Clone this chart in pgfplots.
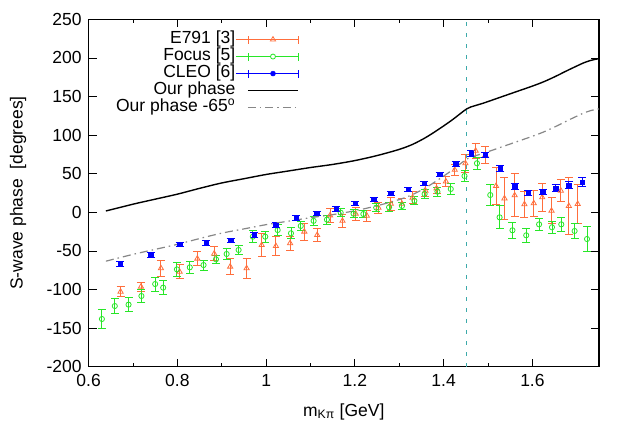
\documentclass[border=0pt]{standalone}
\usepackage{pgfplots}
\pgfplotsset{compat=1.18}
\usepackage{fontspec}
\setmainfont{Liberation Sans}

\definecolor{eorange}{RGB}{255,110,60}
\definecolor{fgreen}{RGB}{40,230,40}
\definecolor{cblue}{RGB}{0,0,255}
\definecolor{thrteal}{RGB}{60,170,170}
\definecolor{shiftgray}{RGB}{135,135,135}

\newcommand{\fs}{\fontsize{17.5bp}{20bp}\selectfont}

\begin{document}
\begin{tikzpicture}[font=\fs]
\begin{axis}[
    at={(0,0)}, anchor=south west,
    scale only axis,
    width=510.4bp, height=347.4bp,
    xmin=0.6, xmax=1.75,
    ymin=-200, ymax=250,
    xtick={0.6,0.8,1,1.2,1.4,1.6},
    minor x tick num=1,
    ytick={-200,-150,...,250},
    tick align=inside,
    major tick length=8bp, minor tick length=4bp,
    axis line style={line width=1.1bp},
    every tick/.style={black, line width=0.8bp},
    /pgf/number format/assume math mode=true,
    tick label style={font=\fs},
    xticklabel style={/pgf/number format/fixed, yshift=-4bp},
    yticklabel style={xshift=-3.5bp},
    xlabel={m\textsubscript{Kπ} [GeV]},
    ylabel={S-wave phase\ \ [degrees]},
    xlabel style={font=\fs, at={(axis description cs:0.5,-0.13)}, anchor=center},
    ylabel style={font=\fs, at={(axis description cs:-0.138,0.5)}, anchor=center},
    legend plot pos=right,
    legend cell align=right,
    legend style={font=\fs, draw=none, fill=none, inner sep=0bp,
        at={(axis description cs:0.412,0.966)}, anchor=north east,
        row sep=0.5bp,
        nodes={inner sep=0bp, text height=12.5bp, text depth=4bp}},
    error bars/y dir=both, error bars/y explicit,
    error bars/error bar style={line width=0.9bp, solid},
    error bars/error mark options={rotate=90, mark size=4bp, line width=0.9bp},
]

% E791 [3]
\addplot[only marks, eorange, mark=triangle, mark size=3bp, mark options={line width=0.8bp},
    legend image code/.code={
        \path (0bp,0bp) -- (62bp,0bp);
        \draw[eorange, line width=0.8bp] (12bp,0bp) -- (62bp,0bp);
        \draw[eorange, line width=0.8bp] (12bp,-4bp) -- (12bp,4bp);
        \draw[eorange, line width=0.8bp] (62bp,-4bp) -- (62bp,4bp);
        \draw[eorange, line width=0.8bp] plot[mark=triangle, mark size=3bp] coordinates {(37bp,0bp)};
    }]
table[x=x, y=y, y error=e] {
x      y       e
0.672  -102.8  6.5
0.718  -96.3   6
0.763  -72.5   10
0.805  -76.9   9
0.845  -60.0   9
0.883  -53.6   9
0.919  -70.4   10
0.956  -72.5   13
0.990  -42.4   15
1.022  -43.7   12
1.054  -40.0   9
1.086  -25.0   11
1.115  -29.4   9
1.144  -4.0    9
1.172  -11.0   8.6
1.202  -2.0    8
1.227  -4.5    7
1.253  6.0     7
1.281  11.0    8
1.306  11.0    7
1.330  19.0    7.5
1.359  28.0    7.3
1.384  31.0    7
1.405  40.0    6
1.425  55.0    7
1.449  63.5    12
1.472  79.8    10
1.494  74.2    11.5
1.518  34.0    24
1.537  18.0    27
1.560  22.0    28
1.582  10.4    17
1.603  11.7    17
1.622  19.4    18
1.643  2.1     17
1.664  28.0    14
1.682  8.2     37
1.702  10.8    25
};
\addlegendentry{E791 [3]}

% Focus [5]
\addplot[only marks, fgreen, mark=o, mark size=2.6bp, mark options={line width=0.8bp},
    legend image code/.code={
        \path (0bp,0bp) -- (62bp,0bp);
        \draw[fgreen, line width=0.8bp] (12bp,0bp) -- (62bp,0bp);
        \draw[fgreen, line width=0.8bp] (12bp,-4bp) -- (12bp,4bp);
        \draw[fgreen, line width=0.8bp] (62bp,-4bp) -- (62bp,4bp);
        \draw[fgreen, line width=0.8bp, fill=white] (37bp,0bp) circle (2.5bp);
    }]
table[x=x, y=y, y error=e] {
x      y       e
0.630  -138.2  12
0.659  -121.4  10
0.690  -119.6  9
0.719  -108.4  9
0.750  -92.9   9
0.768  -97.6   9
0.799  -73.9   9.5
0.828  -71.3   8
0.859  -68.3   6.5
0.887  -60.9   5
0.911  -54.0   7
0.938  -48.8   6
0.970  -31.6   8
0.998  -31.6   7
1.026  -23.0   7
1.056  -27.2   7
1.078  -17.7   6
1.107  -11.1   6
1.137  -9.5    6
1.168  -0.5    5
1.197  -1.8    5
1.219  -2.2    5
1.248  6.0     5
1.277  6.5     6
1.306  8.2     5
1.334  15.0    5
1.357  23.7    6
1.386  26.7    6
1.416  30.2    7.5
1.447  47.0    7.5
1.475  63.5    8
1.505  22.4    14
1.526  -6.5    15
1.555  -23.3   10
1.586  -29.8   9
1.615  -15.6   8
1.644  -19.4   8
1.665  -15.6   9
1.695  -24.2   10
1.723  -34.6   16
};
\addlegendentry{Focus [5]}

% CLEO [6]
\addplot[only marks, cblue, mark=square*, mark size=2.2bp,
    legend image code/.code={
        \path (0bp,0bp) -- (62bp,0bp);
        \draw[cblue, line width=0.8bp] (12bp,0bp) -- (62bp,0bp);
        \draw[cblue, line width=0.8bp] (12bp,-4bp) -- (12bp,4bp);
        \draw[cblue, line width=0.8bp] (62bp,-4bp) -- (62bp,4bp);
        \fill[cblue] (37bp,0bp) circle (2.5bp);
    }]
table[x=x, y=y, y error=e] {
x      y      e
0.671  -66.5  3
0.740  -54.9  3
0.805  -41.5  3
0.865  -39.8  3
0.920  -36.5  3
0.973  -29.4  3
1.022  -16.5  3
1.068  -7.4   3
1.114  -1.3   3
1.158  4.3    3
1.201  11.7   3
1.242  16.8   3
1.281  24.6   3
1.320  29.8   3
1.356  37.6   3
1.391  49.2   3
1.427  63.0   3
1.462  76.0   3.5
1.494  74.4   3.5
1.528  57.0   3.5
1.560  33.2   4
1.591  25.4   3.5
1.623  26.3   3.5
1.652  31.5   4
1.682  35.4   4.5
1.712  38.9   6
};
\addlegendentry{CLEO [6]}

% Our phase
\addplot[black, line width=1.4bp, smooth, no markers,
    legend image code/.code={\path (0bp,0bp); \draw[black, line width=1.4bp] (12bp,0bp) -- (62bp,0bp);}]
coordinates {
(0.639,1.7) (0.70,10.5) (0.75,17) (0.80,23.5) (0.85,31) (0.90,38) (0.95,43.5)
(1.00,49) (1.05,53.5) (1.10,58) (1.15,62) (1.20,67) (1.25,73.5) (1.30,81.5)
(1.33,88) (1.36,97) (1.39,108) (1.42,120) (1.452,134)
(1.47,138) (1.49,141.5) (1.53,149.5) (1.565,156.5) (1.60,163.5) (1.625,169)
(1.65,175.5) (1.678,183.5) (1.70,189.5) (1.715,193.5) (1.73,196.5) (1.742,198.2) (1.75,199)
};
\addlegendentry{Our phase}

% Our phase -65 deg
\addplot[shiftgray, line width=1.2bp, dash pattern=on 8bp off 4bp on 1.5bp off 4bp, smooth, no markers,
    legend image code/.code={\path (0bp,0bp); \draw[shiftgray, line width=1.2bp, dash pattern=on 8bp off 4bp on 1.5bp off 4bp] (12bp,0bp) -- (62bp,0bp);}]
coordinates {
(0.639,-63.3) (0.70,-54.5) (0.75,-48) (0.80,-41.5) (0.85,-34) (0.90,-27) (0.95,-21.5)
(1.00,-16) (1.05,-11.5) (1.10,-7) (1.15,-3) (1.20,2) (1.25,8.5) (1.30,16.5)
(1.33,23) (1.36,32) (1.39,43) (1.42,55) (1.452,69)
(1.47,73) (1.49,76.5) (1.53,84.5) (1.565,91.5) (1.60,98.5) (1.625,104)
(1.65,110.5) (1.678,118.5) (1.70,124.5) (1.715,128.5) (1.73,131.5) (1.742,133.2) (1.75,134)
};
\addlegendentry{Our phase -65\textsuperscript{o}}

% threshold line
\addplot[thrteal, line width=1.3bp, dash pattern=on 4bp off 7bp, forget plot] coordinates {
(1.452,-200) (1.452,250)
};

\end{axis}
\pgfresetboundingbox
\path (-88.6bp,-70.3bp) rectangle (534.4bp,366.7bp);
\end{tikzpicture}
\end{document}
